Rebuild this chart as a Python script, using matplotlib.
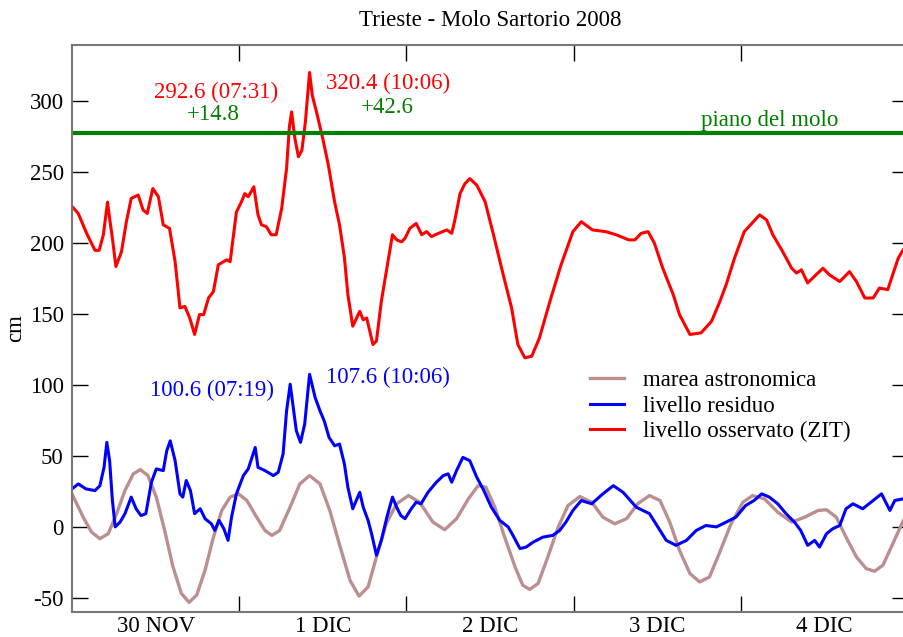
import matplotlib
matplotlib.use("Agg")
import matplotlib.pyplot as plt
from matplotlib.ticker import FixedLocator, NullFormatter, FixedFormatter

plt.rcParams['font.family'] = ['Liberation Serif', 'DejaVu Serif']
plt.rcParams['axes.unicode_minus'] = False

# hours from 30 NOV 2008 00:00
obs_h = [
    0, 0.9, 2.1, 3.3, 3.9, 4.5, 5.1, 5.4, 5.8, 6.3,
    7.1, 7.8, 8.5, 9.5, 10.2, 10.8, 11.6, 12.4, 13.1, 14.0,
    14.8, 15.5, 16.2, 16.9, 17.6, 18.3, 18.9, 19.6, 20.3, 21.0,
    22.2, 22.7, 23.6, 24.3, 24.8, 25.3, 26.1, 26.7, 27.2, 27.9,
    28.6, 29.3, 30.1, 30.8, 31.2, 31.52, 32.0, 32.5, 33.0, 33.5,
    34.1, 34.5, 35.1, 36.0, 36.8, 37.7, 38.4, 39.1, 39.6, 40.3,
    41.3, 41.8, 42.3, 43.2, 43.7, 44.4, 45.2, 46.0, 46.6, 47.3,
    47.8, 48.5, 49.4, 50.2, 50.9, 51.6, 52.6, 53.8, 54.5, 54.9,
    55.7, 56.4, 57.1, 58.1, 59.3, 60.5, 61.9, 63.1, 64.0, 65.0,
    66.0, 67.1, 68.6, 70.2, 71.9, 73.1, 74.7, 76.6, 78.1, 79.9,
    80.8, 81.7, 82.7, 83.6, 84.8, 86.3, 87.2, 88.7, 90.3, 91.8,
    93.0, 93.9, 95.1, 96.5, 97.8, 98.7, 99.7, 100.6, 102.0, 103.3,
    104.0, 104.7, 105.6, 106.8, 107.8, 108.7, 110.2, 111.6, 112.6, 113.8,
    115.0, 115.9, 117.1, 117.8, 118.6, 119.3]
obs_v = [
    226, 221, 207, 195, 195, 206, 229, 217.6, 203.5, 183.6,
    194, 215, 231.6, 234, 223.5, 221, 238.6, 232.8, 213, 210.5,
    187, 154.4, 155.5, 147.3, 135.7, 149.7, 149.7, 161.4, 166, 184.8,
    188.3, 187, 222, 229, 235, 232.8, 239.8, 220, 213, 211.7,
    206, 206, 224.6, 252.7, 282, 292.6, 273.7, 261, 265.6, 285.5,
    320.4, 304, 292.5, 273.7, 255, 229, 213, 190, 163.8, 141.5,
    152, 146, 147.3, 128.6, 131, 159, 182.4, 206, 202.4, 201,
    203.5, 210.5, 214, 206, 208.2, 204.7, 207, 209.4, 207, 215,
    235, 242, 245.6, 241, 229.3, 206, 177.8, 154.4, 128.6, 119.2,
    120.4, 133.3, 159, 184.8, 208.2, 215.2, 209.4, 208.2, 206, 202.4,
    202.4, 207, 208.2, 200, 182.4, 163.8, 149.7, 135.7, 136.8, 145,
    159, 170.8, 189.5, 208.2, 215.2, 220, 216.4, 206, 194.2, 182.4,
    179, 181.3, 172, 177.8, 182.4, 177.8, 173, 180, 173, 161.4,
    161.4, 168.4, 167.3, 177.8, 189.5, 195.3]

res_h = [
    0, 0.9, 2.0, 3.3, 4.0, 4.6, 5.0, 5.4, 5.8, 6.2,
    6.9, 7.6, 8.5, 9.2, 9.9, 10.6, 11.4, 12.1, 13.1, 13.6,
    14.1, 14.8, 15.5, 15.9, 16.4, 17.0, 17.6, 18.4, 19.1, 20.0,
    20.5, 21.1, 21.8, 22.4, 22.9, 23.6, 24.6, 25.3, 26.3, 26.7,
    27.7, 28.9, 29.6, 30.3, 30.8, 31.32, 32.2, 32.8, 33.4, 34.1,
    34.9, 35.6, 36.2, 36.9, 37.7, 38.4, 39.1, 39.6, 40.3, 40.8,
    41.3, 41.8, 42.5, 43.0, 43.7, 44.4, 45.2, 46.0, 46.6, 47.2,
    47.8, 48.7, 49.4, 50.1, 51.1, 52.3, 53.3, 54.0, 54.5, 55.2,
    56.1, 57.1, 58.1, 59.0, 60.2, 61.4, 62.6, 63.3, 64.3, 65.2,
    66.2, 67.6, 69.0, 70.0, 70.9, 71.9, 73.1, 74.6, 76.2, 77.7,
    79.1, 81.0, 82.9, 84.4, 85.3, 86.7, 88.2, 89.6, 91.0, 92.5,
    93.9, 95.3, 96.7, 97.9, 99.0, 100.1, 101.3, 102.5, 103.7, 104.6,
    105.6, 106.6, 107.3, 108.3, 109.2, 110.2, 111.1, 112.1, 113.5, 115.0,
    116.2, 117.4, 118.1, 119.3]
res_v = [
    26.8, 30.3, 26.8, 25.6, 29, 42, 59.6, 46.7, 18.6, 0,
    3.4, 9.3, 21, 12.8, 8, 9.3, 31.5, 40.9, 39.7, 53.7,
    60.7, 46.7, 23.3, 21, 32.7, 25.6, 9.3, 12.8, 5.8, 2.2,
    -2.5, 4.6, -1.3, -9.5, 6.9, 23.3, 36.2, 40.9, 56, 42,
    39.7, 36.2, 38.5, 51.4, 81.8, 100.6, 67.8, 59.6, 72.5, 107.6,
    91.2, 81.8, 74.8, 63.1, 57.2, 58.4, 44.4, 27.9, 12.8, 18.6,
    24.4, 13.9, 4.6, -4.8, -20, -9.5, 6.9, 21, 13.9, 8,
    5.8, 12.8, 17.4, 16.3, 24.4, 31.5, 36.2, 37.4, 31.5, 39.7,
    49, 46.7, 35, 26.8, 13.9, 4.6, 0, -6, -15.3, -14.2,
    -10.7, -7.2, -6, -2.5, 3.4, 11.6, 18.6, 16.3, 23.3, 29.1,
    24.4, 13.9, 9.3, -2.5, -9.5, -13, -9.5, -2.5, 1, 0,
    3.4, 6.9, 15.1, 18.6, 23.3, 21, 16.3, 9.3, 3.4, -2.5,
    -13, -9.5, -14.2, -4.8, -1.3, 1, 12.8, 16.3, 12.8, 18.6,
    23.3, 11.6, 18.6, 19.8]

tide_h = [
    0, 1.6, 2.8, 4.0, 5.2, 6.4, 7.6, 8.8, 9.8, 10.9,
    12.1, 13.3, 14.5, 15.7, 16.8, 17.9, 19.1, 20.3, 21.5, 22.7,
    23.9, 25.1, 26.5, 27.7, 28.7, 29.8, 31.3, 32.7, 34.1, 35.6,
    37.0, 38.5, 39.9, 41.2, 42.5, 43.7, 45.1, 46.6, 48.3, 49.9,
    51.8, 53.5, 55.2, 56.9, 58.3, 59.4, 60.7, 62.1, 63.6, 64.7,
    65.7, 66.9, 68.3, 69.8, 71.2, 72.9, 74.6, 76.2, 77.9, 79.6,
    81.2, 82.9, 84.4, 85.8, 87.2, 88.7, 90.1, 91.5, 92.9, 94.6,
    96.3, 97.7, 99.4, 101.3, 103.3, 105.2, 107.1, 108.3, 109.7, 111.1,
    112.6, 114.0, 115.2, 116.4, 117.6, 119.0, 119.6]
tide_v = [
    23.3, 6.9, -3.6, -8.3, -4.8, 9.3, 25.6, 37.4, 40.4, 36.2,
    21, -2.5, -28.2, -46.9, -53.2, -48.1, -30.5, -7.2, 11.6, 21,
    23.3, 18.6, 6.9, -2.5, -6, -2.5, 13.9, 30.3, 36.2, 30.3,
    11.6, -14.2, -37.6, -48.8, -42.3, -21.2, 2.2, 16.3, 22.1, 17.4,
    3.4, -2, 5.8, 19.8, 29.1, 28, 13.9, -7.2, -28.2, -41.1,
    -44.1, -39.9, -21.2, 0, 15.1, 21.4, 17.4, 6.9, 2.2, 5.8,
    16.3, 22.1, 18.6, 3.4, -16.5, -32.9, -38.8, -35.3, -18.8, 2.2,
    17.4, 22.1, 19.8, 10.4, 3.4, 6.9, 11.6, 12.1, 6.9, -7.2,
    -21.2, -29.4, -31.3, -27, -14.2, 1, 7]

pier_level = 277.8
day_labels = ['30 NOV', '1 DIC', '2 DIC', '3 DIC', '4 DIC']
day_bounds = [24, 48, 72, 96]
day_centers = [12, 36, 60, 84, 108]
y_ticks = [-50, 0, 50, 100, 150, 200, 250, 300]

W, H = 904, 637
fig = plt.figure(figsize=(W / 100, H / 100), dpi=100)
ax = fig.add_axes([72 / W, 1 - 612 / H, 836 / W, (612 - 44.7) / H])

FS = 16.5
ax.plot(tide_h, tide_v, color='#bc8f8f', lw=2.4, label='marea astronomica', solid_joinstyle='round')
ax.plot(res_h, res_v, color='#0000ff', lw=2.2, label='livello residuo')
ax.plot(obs_h, obs_v, color='#ff0000', lw=2.2, label='livello osservato (ZIT)')
ax.axhline(pier_level, color='#008000', lw=3)

ax.set_xlim(0, 120)
ax.set_ylim(-60, 340)

ax.xaxis.set_major_locator(FixedLocator(day_bounds))
ax.xaxis.set_major_formatter(NullFormatter())
ax.xaxis.set_minor_locator(FixedLocator(day_centers))
ax.xaxis.set_minor_formatter(FixedFormatter(day_labels))
ax.tick_params(axis='x', which='major', direction='in', length=11.5, width=1, top=True, bottom=True)
ax.tick_params(axis='x', which='minor', length=0, pad=3, labelsize=FS)
ax.set_yticks(y_ticks)
ax.tick_params(axis='y', direction='in', length=11.5, width=1, left=True, right=True, pad=6, labelsize=FS)
for s in ax.spines.values():
    s.set_color('#777777')
    s.set_linewidth(1.5)

ax.text(20.7, 306.5, '292.6 (07:31)', color='#ff0000', fontsize=FS, ha='center', va='center')
ax.text(20.3, 290.6, '+14.8', color='#008000', fontsize=FS, ha='center', va='center')
ax.text(45.3, 312.4, '320.4 (10:06)', color='#ff0000', fontsize=FS, ha='center', va='center')
ax.text(45.2, 296.0, '+42.6', color='#008000', fontsize=FS, ha='center', va='center')
ax.text(100.1, 286.5, 'piano del molo', color='#008000', fontsize=FS, ha='center', va='center')
ax.text(20.1, 95.9, '100.6 (07:19)', color='#0000ff', fontsize=FS, ha='center', va='center')
ax.text(45.3, 105.7, '107.6 (10:06)', color='#0000ff', fontsize=FS, ha='center', va='center')

ax.legend(loc='upper left', bbox_to_anchor=(590 / W, 1 - 370 / H), bbox_transform=fig.transFigure,
          frameon=False, fontsize=FS, handlelength=1.5, handletextpad=0.8, labelspacing=0.2,
          borderpad=0, borderaxespad=0)

fig.text(490 / W, 1 - 20 / H, 'Trieste - Molo Sartorio 2008', fontsize=FS, ha='center', va='center')
fig.text(16 / W, 1 - 328 / H, 'cm', fontsize=FS, ha='center', va='center', rotation=90)

fig.savefig('out.png', dpi=100)
